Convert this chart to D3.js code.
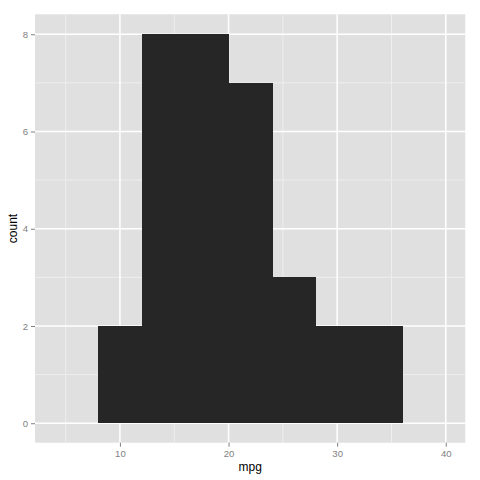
<!DOCTYPE html>
<html><head><meta charset="utf-8">
<script src="https://cdn.jsdelivr.net/npm/d3@7"></script>
<style>body{margin:0;background:#fff;} svg{display:block;font-family:"Liberation Sans",Arial,sans-serif;}</style>
</head><body>
<svg id="c" width="480" height="480"></svg>
<script>
const binStarts = [8, 12, 16, 20, 24, 28, 32];
const binWidth = 4;
const counts = [2, 8, 8, 7, 3, 2, 2];
const xTicks = [10, 20, 30, 40];
const xMinor = [5, 15, 25, 35];
const yTicks = [0, 2, 4, 6, 8];
const yMinor = [1, 3, 5, 7];

const svg = d3.select("#c");
const L = 35, R = 465.3, T = 14.3, B = 442.7;
const x = d3.scaleLinear().domain([2.18, 41.8]).range([L, R]);
const y = d3.scaleLinear().domain([-0.4, 8.41]).range([B, T]);

svg.append("rect").attr("x", L).attr("y", T).attr("width", R - L).attr("height", B - T).attr("fill", "#e0e0e0");
const g = svg.append("g");
g.selectAll(".xm").data(xMinor).join("line").attr("x1", d => x(d)).attr("x2", d => x(d)).attr("y1", T).attr("y2", B).attr("stroke", "#eeeeee").attr("stroke-width", 1);
g.selectAll(".ym").data(yMinor).join("line").attr("y1", d => y(d)).attr("y2", d => y(d)).attr("x1", L).attr("x2", R).attr("stroke", "#eeeeee").attr("stroke-width", 1);
g.selectAll(".xM").data(xTicks).join("line").attr("x1", d => x(d)).attr("x2", d => x(d)).attr("y1", T).attr("y2", B).attr("stroke", "#fff").attr("stroke-width", 1.5);
g.selectAll(".yM").data(yTicks).join("line").attr("y1", d => y(d)).attr("y2", d => y(d)).attr("x1", L).attr("x2", R).attr("stroke", "#fff").attr("stroke-width", 1.5);

svg.append("g").attr("shape-rendering", "crispEdges").selectAll("rect").data(binStarts).join("rect")
  .attr("x", d => x(d)).attr("width", d => x(d + binWidth) - x(d) + 0.6)
  .attr("y", (d, i) => y(counts[i])).attr("height", (d, i) => y(0) - y(counts[i]))
  .attr("fill", "#262626");

const xAxis = d3.axisBottom(x).tickValues(xTicks).tickSize(4).tickPadding(3);
const ax = svg.append("g").attr("transform", `translate(0,${B})`).call(xAxis);
const yAxis = d3.axisLeft(y).tickValues(yTicks).tickSize(4).tickPadding(3);
const ay = svg.append("g").attr("transform", `translate(${L},0)`).call(yAxis);
[ax, ay].forEach(a => {
  a.select(".domain").remove();
  a.selectAll("line").attr("stroke", "#7f7f7f");
  a.selectAll("text").attr("fill", "#7f7f7f").style("font-size", "9.6px").style("font-family", "Liberation Sans, Arial, sans-serif");
});

svg.append("text").attr("x", (L + R) / 2).attr("y", 471).attr("text-anchor", "middle").style("font-size", "12px").text("mpg");
svg.append("text").attr("transform", `translate(17,${(T + B) / 2}) rotate(-90)`).attr("text-anchor", "middle").style("font-size", "12px").text("count");
</script>
</body></html>
